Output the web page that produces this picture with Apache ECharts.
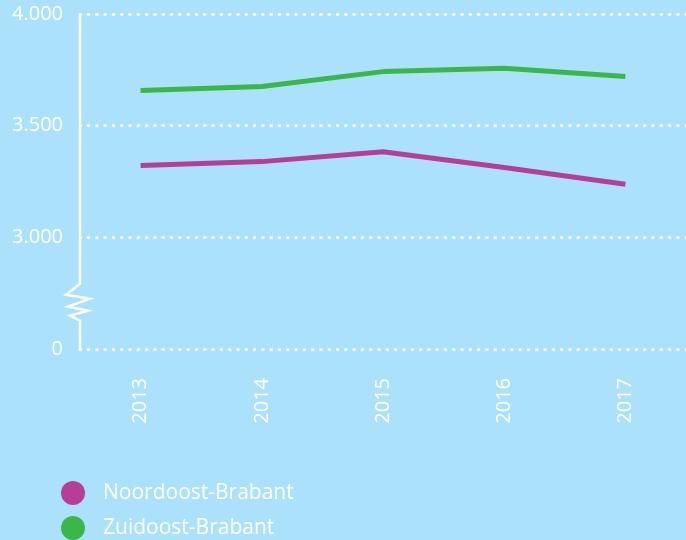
<!DOCTYPE html>
<html><head><meta charset="utf-8">
<style>html,body{margin:0;padding:0;background:#abe1fb;}#c{width:686px;height:540px;}</style>
<script src="https://cdn.jsdelivr.net/npm/echarts@6/dist/echarts.min.js"></script>
</head><body><div id="c"></div>
<script>
var years = ['2013','2014','2015','2016','2017'];
var noordoost = [3322, 3339, 3383, 3313, 3238];
var zuidoost = [3658, 3675, 3742, 3757, 3720];
var seriesNames = ['Noordoost-Brabant','Zuidoost-Brabant'];
// broken axis: the bottom tick stands for 0
var yTickValues = [2500, 3000, 3500, 4000];
var yTickLabels = ['0', '3.000', '3.500', '4.000'];

(function(){
var FONT = '"Open Sans", sans-serif';
var chart = echarts.init(document.getElementById('c'), null, {renderer:'canvas'});
var option = {
  backgroundColor: '#abe1fb',
  animation: false,
  grid: {left: 80, right: 0, top: 14, bottom: 191},
  legend: {
    orient: 'vertical', left: 61, top: 481, padding: 0, height: 60,
    itemWidth: 24, itemHeight: 24, itemGap: 11, icon: 'circle',
    data: seriesNames,
    textStyle: {color: '#fff', fontSize: 21, fontFamily: FONT, padding: [0,0,0,13]}
  },
  xAxis: {
    type: 'category', data: years, boundaryGap: true,
    axisLine: {show: false}, axisTick: {show: false},
    axisLabel: {rotate: 90, color: '#fff', fontSize: 20, fontFamily: FONT, margin: 29}
  },
  yAxis: {
    type: 'value', min: 2500, max: 4000, interval: 500,
    axisLine: {show: false}, axisTick: {show: false},
    axisLabel: {color: '#fff', fontSize: 20, fontFamily: FONT, margin: 17,
      formatter: function(v){ var i = yTickValues.indexOf(v); return i >= 0 ? yTickLabels[i] : ''; }},
    splitLine: {show: true, lineStyle: {color: '#fff', width: 3, type: [0.5, 7.8], cap: 'round'}}
  },
  series: [
    {name: seriesNames[0], type: 'line', data: noordoost, color: '#b53f98', symbol: 'none',
     lineStyle: {width: 5, color: '#b53f98'}},
    {name: seriesNames[1], type: 'line', data: zuidoost, color: '#3bb64a', symbol: 'none',
     lineStyle: {width: 5, color: '#3bb64a'}}
  ]
};
chart.setOption(option);

var yTop = chart.convertToPixel({yAxisIndex: 0}, 4000);
var yBot = chart.convertToPixel({yAxisIndex: 0}, 2500);
var x0 = 80;
var h = yBot - yTop;
var zs = yTop + h * 0.805;
var pts = [[x0, yTop], [x0, zs], [x0-14, zs+11], [x0+10, zs+15], [x0-12, zs+23], [x0+8, zs+27], [x0-10, zs+32], [x0, zs+37], [x0, yBot]];
chart.setOption({graphic: [{type: 'polyline', shape: {points: pts}, style: {stroke: '#fff', lineWidth: 2.5, fill: null}, z: 10}]});
})();
</script></body></html>
